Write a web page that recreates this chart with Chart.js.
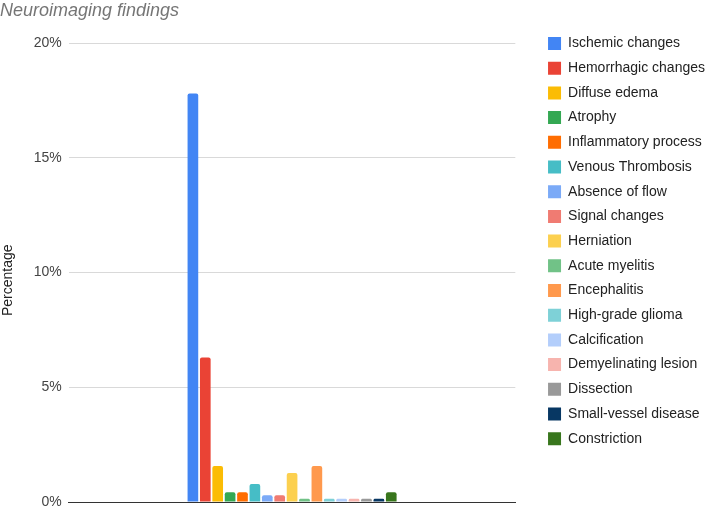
<!DOCTYPE html>
<html>
<head>
<meta charset="utf-8">
<script src="https://cdn.jsdelivr.net/npm/chart.js@4"></script>
<style>
    html, body { margin: 0; padding: 0; background: #fff; }
    #wrap { width: 709px; height: 508px; }
</style>
</head>
<body>
<div id="wrap"><canvas id="myChart"></canvas></div>
<script>
// findings shown in the chart (one bar each)
const findings = [
    'Ischemic changes', 'Hemorrhagic changes', 'Diffuse edema', 'Atrophy',
    'Inflammatory process', 'Venous Thrombosis', 'Absence of flow', 'Signal changes',
    'Herniation', 'Acute myelitis', 'Encephalitis', 'High-grade glioma',
    'Calcification', 'Demyelinating lesion', 'Dissection', 'Small-vessel disease',
    'Constriction'
];
// percentage per finding
const percentages = [17.8, 6.3, 1.57, 0.43, 0.43, 0.78, 0.29, 0.29, 1.26, 0.14, 1.57, 0.14, 0.14, 0.14, 0.14, 0.14, 0.43];
const colors = [
    '#4285f4', '#ea4335', '#fbbc04', '#34a853', '#ff6d01', '#46bdc6', '#7baaf7', '#f07b72',
    '#fcd04f', '#71c287', '#ff994d', '#7ed1d7', '#b3cefb', '#f7b4ae', '#999999', '#073763',
    '#38761d'
];
const yTicks = [0, 5, 10, 15, 20];

function chart() {
    const ctx = document.getElementById('myChart').getContext('2d');
    Chart.defaults.font.family = '"Liberation Sans", Arial, sans-serif';
    const myChart = new Chart(ctx, {
        type: 'bar',
        data: {
            labels: [''],
            datasets: findings.map((name, i) => ({
                label: name,
                data: [percentages[i]],
                backgroundColor: colors[i],
                borderRadius: { topLeft: 2, topRight: 2 },
                borderSkipped: 'bottom',
                categoryPercentage: 0.472,
                barPercentage: 0.86
            }))
        },
        options: {
            responsive: true,
            maintainAspectRatio: false,
            animation: false,
            layout: { padding: { left: 0, right: -6, top: 0, bottom: 0 } },
            plugins: {
                title: {
                    display: true,
                    text: 'Neuroimaging findings',
                    align: 'start',
                    color: '#757575',
                    font: { size: 18, style: 'italic', weight: 'normal' },
                    padding: { top: 0, bottom: 21.4 }
                },
                legend: {
                    position: 'right',
                    align: 'start',
                    maxWidth: 220,
                    title: {
                        display: true,
                        text: ' ',
                        font: { size: 10 },
                        padding: { top: 0, bottom: 13.8 }
                    },
                    labels: {
                        boxWidth: 13,
                        boxHeight: 13,
                        padding: 10.7,
                        color: '#222',
                        font: { size: 14 }
                    }
                },
                tooltip: { enabled: false }
            },
            scales: {
                x: {
                    ticks: { display: false },
                    grid: { display: false },
                    border: { color: '#333', width: 1 },
                    afterFit: (s) => { s.height = 6; }
                },
                y: {
                    min: 0,
                    max: 20,
                    afterBuildTicks: (axis) => { axis.ticks = yTicks.map(v => ({ value: v })); },
                    afterFit: (s) => { s.paddingTop = 0; s.paddingBottom = 0; },
                    ticks: {
                        color: '#444',
                        font: { size: 14 },
                        padding: 7,
                        callback: (v) => v + '%'
                    },
                    grid: { color: '#d9d9d9', drawTicks: false },
                    border: { display: false },
                    title: {
                        display: true,
                        text: 'Percentage    ',
                        color: '#222',
                        font: { size: 14 },
                        padding: { top: 0, bottom: 10 }
                    }
                },
                // empty spacer between the plot and the legend
                gap: {
                    position: 'right',
                    display: true,
                    ticks: { display: false },
                    grid: { display: false },
                    border: { display: false },
                    afterFit: (s) => { s.width = 22; }
                }
            }
        }
    });
}

chart();
</script>
</body>
</html>
